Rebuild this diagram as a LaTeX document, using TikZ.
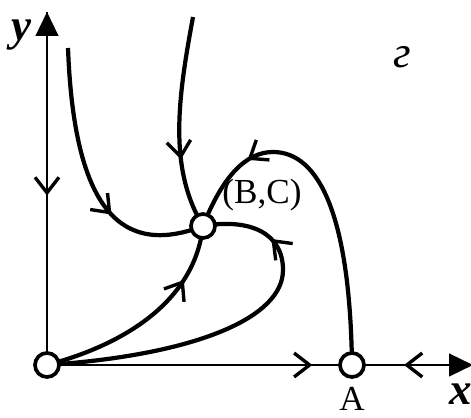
\documentclass[tikz,border=0pt]{standalone}
\usepackage{fontspec}
\setmainfont{Liberation Serif}
\usetikzlibrary{arrows.meta, decorations.markings}

\tikzset{
    pt/.style={circle, draw, fill=white, line width=2.6pt, minimum size=0.6cm, inner sep=0pt},
    traj/.style={line width=3pt},
    flow/.style={postaction={decorate}, decoration={markings,
        mark=at position #1 with {\arrow[line width=2.4pt]{Straight Barb[length=11pt, width=17pt]}}}},
    axis/.style={line width=1.9pt},
    lbl/.style={font=\fontsize{25}{25}\selectfont, inner sep=0pt},
    axlbl/.style={font=\fontsize{32}{32}\selectfont\bfseries\itshape, inner sep=0pt}
}

\begin{document}
\begin{tikzpicture}[x=0.025cm, y=0.025cm]
    \useasboundingbox (0,0) rectangle (471,418);

    % --- equilibria ---
    \coordinate (O) at (47,53);
    \coordinate (A) at (352,53);
    \coordinate (BC) at (203,192);
    \coordinate (ytip) at (47,406);
    \coordinate (xtip) at (473,53);

    % --- axes ---
    \draw[axis, -{Triangle[length=17pt, width=16pt]}] (O) -- (ytip);
    \draw[axis, -{Triangle[length=17pt, width=16pt]}] (O) -- (xtip);
    \draw[axis, flow=0.52] (ytip) -- (O);
    \draw[axis, flow=0.87] (O) -- (A);
    \draw[axis, flow=0.57] (xtip) -- (A);

    % --- trajectories into (B,C) ---
    \coordinate (s1) at (68,370);
    \coordinate (s2) at (193,401);
    \draw[traj, flow=0.64] (s1) .. controls (74,210) and (120,160) .. (BC);
    \draw[traj, flow=0.67] (s2) .. controls (178,320) and (168,250) .. (BC);
    \draw[traj, flow=0.74] (O) .. controls (130,75) and (195,120) .. (BC);
    \draw[traj] (O) .. controls (195,63) and (283,100) .. (283,148)
        coordinate (loop);
    \draw[traj, flow=0.32] (loop) .. controls (283,185) and (250,200) .. (BC);
    \draw[traj] (A) .. controls (350,200) and (320,266) .. (273,266)
        coordinate (cap);
    \draw[traj, flow=0.25] (cap) .. controls (245,266) and (222,240) .. (BC);

    % --- points ---
    \node[pt] (nO) at (O) {};
    \node[pt] (nA) at (A) {};
    \node[pt] (nBC) at (BC) {};

    % --- labels ---
    \node[lbl] (lBC) at (262,223) {(B,C)};
    \node[lbl] (lA) at (352,19) {A};
    \node[axlbl] (ly) at (21,383) {y};
    \node[axlbl] (lx) at (461,24) {x};
    \node[font=\fontsize{32}{32}\selectfont\itshape, inner sep=0pt] (lg) at (402,361) {г};
\end{tikzpicture}
\end{document}
